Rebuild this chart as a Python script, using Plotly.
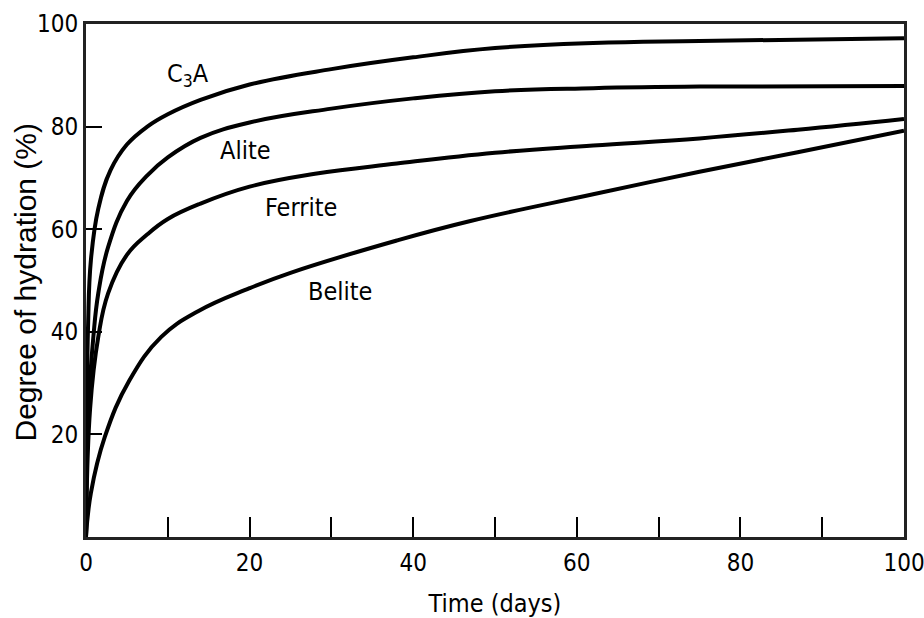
import plotly.graph_objects as go

# ---- data ----
c3a_t = [0, 0.1, 0.25, 0.6, 1.5, 3, 5, 7.5, 10, 14, 20, 30, 40, 50, 62, 75, 100]
c3a_y = [0, 25, 41, 54, 64, 71.5, 76.5, 80, 82.4, 85.2, 88.2, 91.2, 93.5, 95.3, 96.3, 96.7, 97.2]

alite_t = [0, 0.3, 0.9, 1.5, 2.7, 5, 7.5, 10, 14, 20, 30, 40, 50, 62, 75, 100]
alite_y = [0, 25, 39, 47.5, 56.5, 65.5, 70.5, 74, 77.8, 80.8, 83.5, 85.5, 86.9, 87.5, 87.8, 87.9]

ferrite_t = [0, 0.5, 1.5, 2.7, 5, 7.5, 10, 14, 20, 28, 38, 50, 62, 75, 87, 100]
ferrite_y = [0, 25, 39, 47.5, 55, 59, 62, 65, 68.3, 70.8, 72.8, 74.9, 76.3, 77.7, 79.4, 81.5]

belite_t = [0, 0.6, 2.3, 5.3, 9.2, 13.7, 20, 25, 38, 47, 62, 75, 87, 100]
belite_y = [0, 8.6, 19.5, 30.5, 39, 44, 48.5, 51.5, 57.8, 61.6, 66.8, 71.2, 75, 79.2]

series_names = ["C<sub>3</sub>A", "Alite", "Ferrite", "Belite"]
label_x = [12.5, 19.5, 26.3, 31.1]
label_y = [90.1, 75.3, 64.2, 47.8]

x_tickvals = [0, 10, 20, 30, 40, 50, 60, 70, 80, 90, 100]
x_ticktext = ["0", "", "20", "", "40", "", "60", "", "80", "", "100"]
y_tickvals = [20, 40, 60, 80, 100]
y_ticktext = ["20", "40", "60", "80", "100"]

x_title = "Time (days)"
y_title = "Degree of hydration (%)"

NARROW = "DejaVu Sans Condensed, Liberation Sans Narrow, Liberation Sans, Arial, sans-serif"

fig = go.Figure()
for t, y in [(c3a_t, c3a_y), (alite_t, alite_y), (ferrite_t, ferrite_y), (belite_t, belite_y)]:
    fig.add_trace(go.Scatter(x=t, y=y, mode="lines",
                             line=dict(color="black", width=4, shape="spline", smoothing=1.2),
                             showlegend=False, hoverinfo="skip"))

for name, lx, ly in zip(series_names, label_x, label_y):
    fig.add_annotation(x=lx, y=ly, text=name, showarrow=False,
                       font=dict(family=NARROW, size=25, color="black"))

# y-axis title as a rotated annotation (precise placement)
fig.add_annotation(xref="paper", yref="paper", x=0, y=0.5, xshift=-61, yshift=-2,
                   text=y_title, textangle=-90, showarrow=False,
                   xanchor="center", yanchor="middle",
                   font=dict(family="Liberation Sans, Arial, sans-serif", size=30, color="black"))

fig.update_layout(
    width=924, height=618,
    margin=dict(l=86, r=20, t=24, b=81),
    paper_bgcolor="white", plot_bgcolor="white",
    font=dict(family=NARROW, size=24, color="black"),
)
fig.update_xaxes(range=[0, 100], tickvals=x_tickvals, ticktext=x_ticktext,
                 ticks="inside", ticklen=20, tickwidth=2, tickcolor="black",
                 ticklabeloverflow="allow", ticklabelstandoff=2, automargin=False,
                 showline=True, linewidth=3, linecolor="#222", mirror=True,
                 showgrid=False, zeroline=False,
                 title=dict(text=x_title, standoff=19,
                            font=dict(family=NARROW, size=25)))
fig.update_yaxes(range=[0, 100], tickvals=y_tickvals, ticktext=y_ticktext,
                 ticks="inside", ticklen=16, tickwidth=2, tickcolor="black",
                 ticklabeloverflow="allow", automargin=False,
                 showline=True, linewidth=3, linecolor="#222", mirror=True,
                 showgrid=False, zeroline=False)

fig.write_html("out.html", config={"displayModeBar": False},
               post_script="document.body.style.margin='0px';")
